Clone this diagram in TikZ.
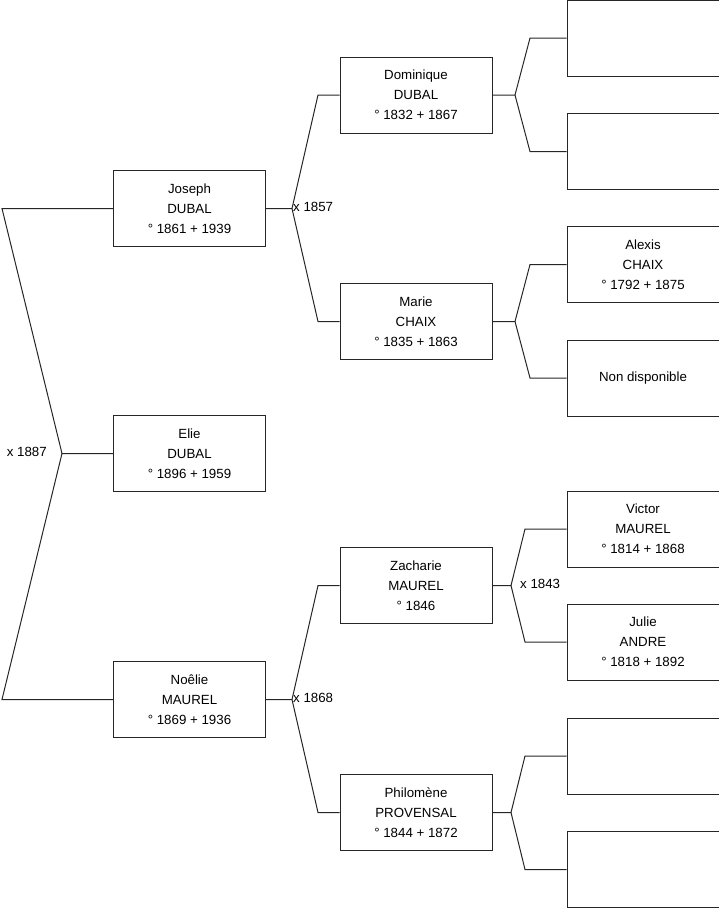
\documentclass[tikz,border=0pt]{standalone}
\usepackage{fontspec}
\setmainfont{Liberation Sans}
\begin{document}
\begin{tikzpicture}[x=1pt,y=-1pt,
  person/.style={draw=black!85, line width=1pt, fill=white, minimum width=152pt, minimum height=76pt,
    inner sep=0pt, align=center, font=\fontsize{13.3}{20}\selectfont},
  link/.style={draw=black!85, line width=1pt},
  marr/.style={inner sep=1pt, font=\fontsize{13.3}{16}\selectfont}]
\useasboundingbox (0,0) rectangle (719,908);
% boxes
\node[person] (A1) at (189.5,208.5) {Joseph\\DUBAL\\° 1861 + 1939};
\node[person] (A0) at (189.5,453.5) {Elie\\DUBAL\\° 1896 + 1959};
\node[person] (A2) at (189.5,699.5) {Noêlie\\MAUREL\\° 1869 + 1936};
\node[person] (B1) at (416,95) {Dominique\\DUBAL\\° 1832 + 1867};
\node[person] (B2) at (416,321.5) {Marie\\CHAIX\\° 1835 + 1863};
\node[person] (B3) at (416,585.5) {Zacharie\\MAUREL\\° 1846};
\node[person] (B4) at (416,812.5) {Philomène\\PROVENSAL\\° 1844 + 1872};
\node[person] (C1) at (643,38) {};
\node[person] (C2) at (643,151.5) {};
\node[person] (C3) at (643,264.5) {Alexis\\CHAIX\\° 1792 + 1875};
\node[person] (C4) at (643,378) {Non disponible};
\node[person] (C5) at (643,529) {Victor\\MAUREL\\° 1814 + 1868};
\node[person] (C6) at (643,642) {Julie\\ANDRE\\° 1818 + 1892};
\node[person] (C7) at (643,756) {};
\node[person] (C8) at (643,869.5) {};
% junctions and corners
\coordinate (j0) at (62,453.5);
\coordinate (k0a) at (2,208.5);
\coordinate (k0b) at (2,699.5);
\coordinate (j1) at (292,208.5);
\coordinate (k1a) at (318,95);
\coordinate (k1b) at (318,321.5);
\coordinate (j2) at (292,699.5);
\coordinate (k2a) at (318,585.5);
\coordinate (k2b) at (318,812.5);
\coordinate (j3) at (515,95);
\coordinate (k3a) at (530,38);
\coordinate (k3b) at (530,151.5);
\coordinate (j4) at (515,321.5);
\coordinate (k4a) at (530,264.5);
\coordinate (k4b) at (530,378);
\coordinate (j5) at (511,585.5);
\coordinate (k5a) at (525,529);
\coordinate (k5b) at (525,642);
\coordinate (j6) at (511,812.5);
\coordinate (k6a) at (525,756);
\coordinate (k6b) at (525,869.5);
% connectors
\draw[link] (A1.west) -- (k0a) -- (j0) -- (A0.west);
\draw[link] (j0) -- (k0b) -- (A2.west);
\draw[link] (A1.east) -- (j1) -- (k1a) -- (B1.west);
\draw[link] (j1) -- (k1b) -- (B2.west);
\draw[link] (A2.east) -- (j2) -- (k2a) -- (B3.west);
\draw[link] (j2) -- (k2b) -- (B4.west);
\draw[link] (B1.east) -- (j3) -- (k3a) -- (C1.west);
\draw[link] (j3) -- (k3b) -- (C2.west);
\draw[link] (B2.east) -- (j4) -- (k4a) -- (C3.west);
\draw[link] (j4) -- (k4b) -- (C4.west);
\draw[link] (B3.east) -- (j5) -- (k5a) -- (C5.west);
\draw[link] (j5) -- (k5b) -- (C6.west);
\draw[link] (B4.east) -- (j6) -- (k6a) -- (C7.west);
\draw[link] (j6) -- (k6b) -- (C8.west);
% marriage labels
\node[marr, anchor=east] (m0) at (48,451.5) {x 1887};
\node[marr, anchor=west] (m1) at (292,207) {x 1857};
\node[marr, anchor=west] (m2) at (292,698) {x 1868};
\node[marr, anchor=west] (m3) at (519,583.5) {x 1843};
\end{tikzpicture}
\end{document}
